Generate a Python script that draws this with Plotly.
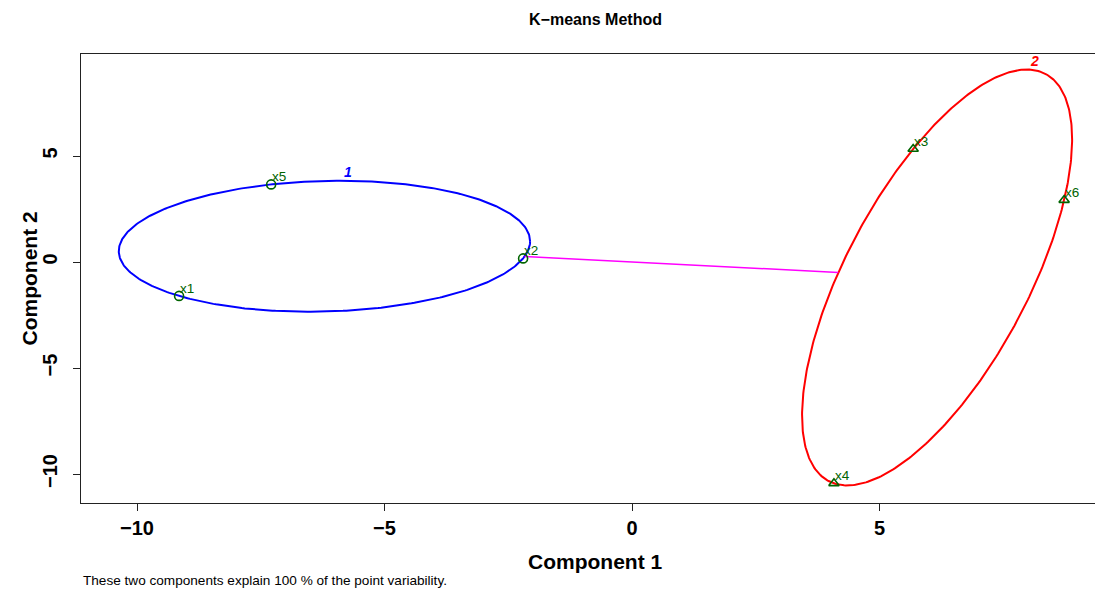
import numpy as np
import plotly.graph_objects as go

# ---- data ----
names = ["x1", "x2", "x3", "x4", "x5", "x6"]
comp1 = [-9.15, -2.20, 5.68, 4.08, -7.29, 8.73]
comp2 = [-1.60, 0.17, 5.33, -10.44, 3.66, 2.92]
cluster = [1, 1, 2, 2, 1, 2]
cluster_ids = [1, 2]
cluster_colors = {1: "#0000FF", 2: "#FF0000"}
cluster_symbols = {1: "circle-open", 2: "triangle-up-open"}
x_ticks = [-10, -5, 0, 5]
y_ticks = [-10, -5, 0, 5]
title_text = "K−means Method"
x_title = "Component 1"
y_title = "Component 2"
subtitle = "These two components explain 100 % of the point variability."

P = np.column_stack([comp1, comp2])
cl = np.array(cluster)

# minimum-area ellipse through 3 points (Steiner circumellipse)
def ell_params(pts):
    c = pts.mean(axis=0)
    d = pts - c
    S = d.T @ d / len(pts)
    return c, S

fig = go.Figure()
params = {}
t = np.linspace(0, 2 * np.pi, 400)
U = np.vstack([np.cos(t), np.sin(t)])
for k in cluster_ids:
    pts = P[cl == k]
    c, S = ell_params(pts)
    params[k] = (c, S)
    L = np.linalg.cholesky(S)
    E = c[:, None] + np.sqrt(2) * (L @ U)
    fig.add_trace(go.Scatter(x=E[0], y=E[1], mode="lines",
                             line=dict(color=cluster_colors[k], width=2),
                             hoverinfo="skip", showlegend=False))
    itop = np.argmax(E[1])
    fig.add_annotation(x=E[0][itop], y=E[1][itop], text=f"<b><i>{k}</i></b>",
                       showarrow=False, yshift=9, xshift=8,
                       font=dict(family="Liberation Sans, Arial", size=14,
                                 color=cluster_colors[k]))

# line between ellipse boundaries along the centre-to-centre line
c1, S1 = params[1]
c2, S2 = params[2]
dvec = c2 - c1
t1 = np.sqrt(2 / (dvec @ np.linalg.solve(S1, dvec)))
t2 = np.sqrt(2 / (dvec @ np.linalg.solve(S2, dvec)))
a = c1 + t1 * dvec
b = c2 - t2 * dvec
fig.add_trace(go.Scatter(x=[a[0], b[0]], y=[a[1], b[1]], mode="lines",
                         line=dict(color="#FF00FF", width=1.5),
                         hoverinfo="skip", showlegend=False))

# points
for k in cluster_ids:
    m = cl == k
    fig.add_trace(go.Scatter(x=P[m, 0], y=P[m, 1], mode="markers",
                             marker=dict(symbol=cluster_symbols[k], size=9,
                                         color="#006400",
                                         line=dict(color="#006400", width=1.6)),
                             showlegend=False))
for n, x, y in zip(names, comp1, comp2):
    fig.add_annotation(x=x, y=y, text=n, showarrow=False, xanchor="left",
                       yanchor="bottom", xshift=-1, yshift=-2,
                       font=dict(family="Liberation Sans, Arial", size=13.5,
                                 color="#006400"))

# page body has an 8px margin, so the figure is drawn 8px in from the corner
W, H = 1095, 582
ml, mr, mt, mb = 73, 0, 46, 87
# pixel calibration of axes (figure pixels)
x_px0, x_ppu = 624.0, 49.5
y_px0, y_ppu = 254.0, 21.2
x_range = [(ml - x_px0) / x_ppu, (W - mr - x_px0) / x_ppu]
y_range = [(y_px0 - (H - mb)) / y_ppu, (y_px0 - mt) / y_ppu]

pw = W - ml - mr
# axis titles and subtitle
fig.add_annotation(xref="paper", yref="paper", x=(586.5 - ml) / pw, y=0,
                   yanchor="middle", yshift=-58, showarrow=False,
                   text=f"<b>{x_title}</b>",
                   font=dict(family="Liberation Sans, Arial", size=21, color="black"))
fig.add_annotation(xref="paper", yref="paper", x=0, y=0.5, xanchor="center",
                   xshift=21 - ml, showarrow=False, textangle=-90,
                   text=f"<b>{y_title}</b>",
                   font=dict(family="Liberation Sans, Arial", size=21, color="black"))
fig.add_annotation(xref="paper", yref="paper", x=0, y=0, xanchor="left",
                   yanchor="middle", xshift=0, yshift=-77, showarrow=False,
                   text=subtitle,
                   font=dict(family="Liberation Sans, Arial", size=13.6, color="black"))

axis_common = dict(showgrid=False, zeroline=False, showline=True,
                   linecolor="#222", linewidth=1, ticks="outside", ticklen=7,
                   tickwidth=1, tickcolor="#222",
                   tickfont=dict(family="Liberation Sans, Arial", size=20,
                                 color="black", weight="bold"))
fig.update_layout(
    width=W, height=H,
    margin=dict(l=ml, r=mr, t=mt, b=mb),
    paper_bgcolor="white", plot_bgcolor="white",
    title=dict(text=f"<b>{title_text}</b>", x=587.5 / W, xref="container",
               xanchor="center", y=1 - 11 / H, yref="container", yanchor="middle",
               font=dict(family="Liberation Sans, Arial", size=16, color="black")),
    xaxis=dict(range=x_range, tickvals=x_ticks, mirror=True, **axis_common),
    yaxis=dict(range=y_range, tickvals=y_ticks, tickangle=-90, mirror=False,
               ticklabelstandoff=8, **axis_common),
)
fig.write_html("out.html")
